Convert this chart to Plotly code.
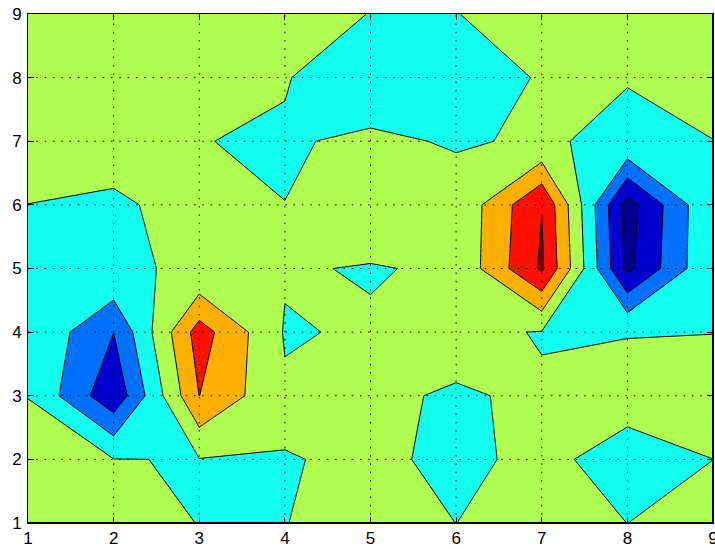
import plotly.graph_objects as go

# grid coordinates
x_vals = [1, 2, 3, 4, 5, 6, 7, 8, 9]
y_vals = [1, 2, 3, 4, 5, 6, 7, 8, 9]

# z values, one row per y (y = 1 ... 9), columns x = 1 ... 9
z_y1 = [0.2, 0.2, -0.01, -0.01, 0.2, -0.002, 0.2, -0.002, 0.2]
z_y2 = [0.2, 0.021, -0.03, -0.02, 0.063, -0.068, 0.074, -0.121, -0.002]
z_y3 = [-0.01, -2.75, 2.01, 0.113, 0.097, -0.059, 0.089, 0.116, 0.3]
z_y4 = [-0.049, -1.99, 2.45, -0.072, 0.099, 0.228, -0.05, -0.0129, -0.01]
z_y5 = [-0.1, -0.03, 0.03, 0.088, -0.069, 0.15, 3.15, -3.25, -0.02]
z_y6 = [-0.005, -0.1, 0.233, 0.00284, 0.8, 0.15, 2.97, -3.42, -0.02]
z_y7 = [0.3, 0.285, 0.00828, -0.0377, 0.067, -0.033, 0.042, -0.085, -0.01]
z_y8 = [0.3, 0.3, 0.3, 0.0222, -0.255, -0.3, 0.045, 0.016, 0.3]
z_y9 = [0.3, 0.3, 0.3, 0.2, -0.01, -0.01, 0.2, 0.3, 0.3]
z_rows = [z_y1, z_y2, z_y3, z_y4, z_y5, z_y6, z_y7, z_y8, z_y9]

# contour levels
level_start = -3
level_end = 3
level_step = 1

# band colours (jet-like), lowest band first
band_colors = ["#00008F", "#0000CF", "#0070FF", "#10FFEF",
               "#AFFF50", "#FFAF00", "#FF1000", "#800000"]

tick_vals = [1, 2, 3, 4, 5, 6, 7, 8, 9]

# piecewise-constant colorscale: band k centred at k/(n-1)
n = len(band_colors)
colorscale = []
for k, c in enumerate(band_colors):
    lo = 0.0 if k == 0 else (k - 0.5) / (n - 1)
    hi = 1.0 if k == n - 1 else (k + 0.5) / (n - 1)
    colorscale.append([lo, c])
    colorscale.append([hi, c])

fig = go.Figure()
fig.add_trace(go.Contour(
    x=x_vals, y=y_vals, z=z_rows,
    contours=dict(start=level_start, end=level_end, size=level_step,
                  coloring="fill", showlines=True),
    colorscale=colorscale,
    showscale=False,
    line=dict(color="black", width=1, smoothing=0),
    hoverinfo="skip",
))

grid_dash = "1.5px,6.8px"
shapes = []
for v in tick_vals[1:-1]:
    shapes.append(dict(type="line", xref="x", yref="y", x0=v, x1=v, y0=y_vals[0], y1=y_vals[-1],
                       line=dict(color="black", width=1, dash=grid_dash), layer="above"))
    shapes.append(dict(type="line", xref="x", yref="y", y0=v, y1=v, x0=x_vals[0], x1=x_vals[-1],
                       line=dict(color="black", width=1, dash=grid_dash), layer="above"))
# heavier bottom and right frame edges
shapes.append(dict(type="line", xref="x", yref="y", x0=x_vals[0], x1=x_vals[-1], y0=y_vals[0], y1=y_vals[0],
                   line=dict(color="black", width=2), layer="above"))
shapes.append(dict(type="line", xref="x", yref="y", x0=x_vals[-1], x1=x_vals[-1], y0=y_vals[0], y1=y_vals[-1],
                   line=dict(color="black", width=2), layer="above"))

axis_common = dict(
    showgrid=False, zeroline=False,
    showline=True, linecolor="black", linewidth=1, mirror="ticks",
    ticks="inside", ticklen=6, tickwidth=1, tickcolor="black",
    tickvals=tick_vals, ticktext=[str(t) for t in tick_vals],
    tickfont=dict(family="Liberation Sans, Arial, sans-serif", size=17, color="black"),
    layer="above traces",
    ticklabeloverflow="allow",
    automargin=False,
)

fig.update_layout(
    width=715, height=549,
    margin=dict(l=28, r=2, t=14, b=26, pad=0),
    paper_bgcolor="white", plot_bgcolor="white",
    xaxis=dict(range=[1, 9], ticklabelstandoff=0, **axis_common),
    yaxis=dict(range=[1, 9], ticklabelstandoff=2, **axis_common),
    shapes=shapes,
    showlegend=False,
)

fig.write_html("out.html")
